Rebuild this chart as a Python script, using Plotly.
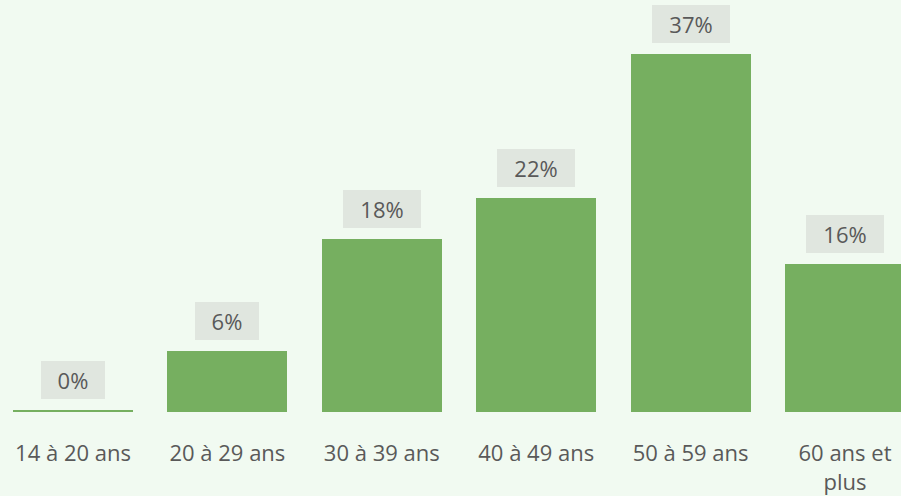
import plotly.graph_objects as go

categories = ["14 à 20 ans", "20 à 29 ans", "30 à 39 ans", "40 à 49 ans", "50 à 59 ans", "60 ans et<br>plus"]
values = [0.2, 6.3, 17.9, 22.1, 37.0, 15.3]
labels = ["0%", "6%", "18%", "22%", "37%", "16%"]

BG = "#F1FAF1"
BAR = "#76AF60"
BOX = "#E0E6DF"
TXT = "#595959"
FONT = "Open Sans"

fig = go.Figure()
fig.add_trace(go.Bar(
    x=categories, y=values, marker=dict(color=BAR, line=dict(width=0)),
    width=0.777, hoverinfo="skip",
))

for c, v, t in zip(categories, values, labels):
    fig.add_annotation(
        x=c, y=v, text=t, showarrow=False, xanchor="center", yanchor="bottom",
        yshift=11, bgcolor=BOX, borderwidth=0, borderpad=0,
        width=36 + 14 * len(t), height=38,
        font=dict(family=FONT, size=22, color=TXT),
    )

fig.update_layout(
    width=901, height=496,
    margin=dict(l=0, r=0, t=0, b=84),
    paper_bgcolor=BG, plot_bgcolor=BG,
    showlegend=False,
    font=dict(family=FONT, size=22, color=TXT),
    bargap=0,
)
fig.update_xaxes(
    type="category", range=[-0.4728, 5.3627], showgrid=False, zeroline=False,
    showline=False, ticks="", tickfont=dict(family=FONT, size=22, color=TXT),
    ticklabelstandoff=26,
)
fig.update_yaxes(range=[0, 42.58], visible=False, showgrid=False, zeroline=False)

fig.write_html(
    "out.html",
    config={"displayModeBar": False},
    post_script="document.body.style.margin='0';document.body.style.background='" + BG + "';",
)
